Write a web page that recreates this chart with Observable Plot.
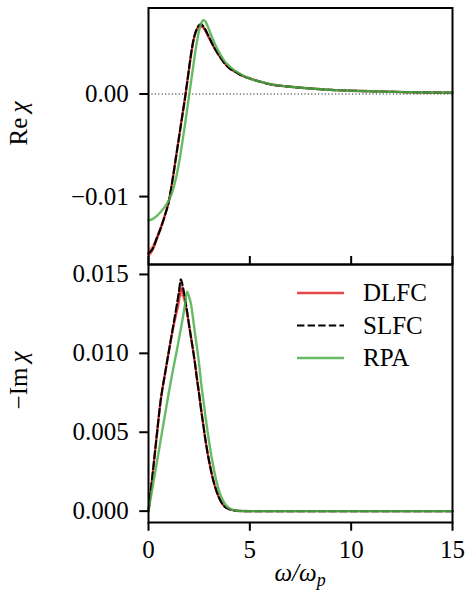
<!DOCTYPE html>
<html><head><meta charset="utf-8">
<script src="https://cdn.jsdelivr.net/npm/d3@7"></script>
<script src="https://cdn.jsdelivr.net/npm/@observablehq/plot@0.6"></script>
<style>
body{margin:0;background:#fff;}
#chart{position:relative;width:467px;height:591px;font-family:'Liberation Serif','Times New Roman','DejaVu Serif',serif;}
#chart svg{display:block;overflow:visible;}
#chart svg text{font-family:'Liberation Serif','Times New Roman','DejaVu Serif',serif !important;}
#overlay{position:absolute;left:0;top:0;pointer-events:none;}
</style></head><body><div id="chart"></div>
<script>
// frequency grid (omega / omega_p)
const omega = [0,0.2,0.4,0.6,0.8,1.0,1.2,1.4,1.5,1.6,1.7,1.8, 1.9,2.0,2.1,2.2,2.3,2.4,2.5,2.6,2.7,2.8,2.9,3.0, 3.25,3.5,3.75,4.0,4.25,4.5, 5,5.5,6,7,8,9,10,11,12,13,14,15];

// Re chi
const reSLFC = [-0.0155,-0.0151,-0.0141,-0.0131,-0.0119,-0.0105,-0.0082,-0.0056,-0.0043,-0.0030,-0.0017,-0.0004, 0.0010,0.0025,0.0039,0.0051,0.0059,0.0064,0.0067,0.0068,0.0066,0.0063,0.0059,0.0055, 0.0045,0.0037,0.0030,0.0025,0.0022,0.0019, 0.0015,0.0012,0.00095,0.0007,0.00053,0.0004,0.00032,0.00026,0.00021,0.00017,0.00014,0.00012];
const reDLFC = [-0.0156,-0.0152,-0.0142,-0.0131,-0.0119,-0.0105,-0.0082,-0.0056,-0.0043,-0.0030,-0.0017,-0.0004, 0.0010,0.0024,0.0038,0.0050,0.0058,0.0063,0.0066,0.0066,0.0065,0.0062,0.0058,0.0054, 0.0045,0.0037,0.0030,0.0025,0.0022,0.0019, 0.0015,0.0012,0.00095,0.0007,0.00053,0.0004,0.00032,0.00026,0.00021,0.00017,0.00014,0.00012];
const reDLFCLo = [-0.0160,-0.0156,-0.0145,-0.0133,-0.0121,-0.0107,-0.0084,-0.0058,-0.0045,-0.0032,-0.0019,-0.0006, 0.0008,0.0022,0.0036,0.0048,0.0056,0.0061,0.0064,0.0064,0.0063,0.0060,0.0057,0.0053, 0.0044,0.0036,0.0029,0.0024,0.0021,0.0018, 0.0014,0.0011,0.0009,0.00065,0.0005,0.00038,0.0003,0.00024,0.0002,0.00016,0.00013,0.00011];
const reDLFCHi = [-0.0152,-0.0148,-0.0139,-0.0129,-0.0117,-0.0103,-0.0080,-0.0054,-0.0041,-0.0028,-0.0015,-0.0002, 0.0012,0.0026,0.0040,0.0052,0.0060,0.0065,0.0068,0.0068,0.0067,0.0064,0.0059,0.0055, 0.0046,0.0038,0.0031,0.0026,0.0023,0.0020, 0.0016,0.0013,0.0010,0.00075,0.00056,0.00042,0.00034,0.00028,0.00022,0.00018,0.00015,0.00013];
const reRPA = [-0.0123,-0.0122,-0.0119,-0.0115,-0.0110,-0.0104,-0.0094,-0.0078,-0.0068,-0.0056,-0.0043,-0.0030, -0.0016,-0.0002,0.0012,0.0026,0.0040,0.0052,0.0062,0.0069,0.0072,0.0071,0.0067,0.0062, 0.0050,0.0040,0.0032,0.0027,0.0023,0.0020, 0.0015,0.0012,0.00096,0.0007,0.00053,0.0004,0.00032,0.00026,0.00021,0.00017,0.00014,0.00012];

// -Im chi
const imSLFC = [0,0.0023,0.0047,0.0070,0.0086,0.0101,0.0116,0.0131,0.0139,0.0147,0.0142,0.0135, 0.0127,0.0118,0.0110,0.0102,0.0093,0.0083,0.0074,0.0064,0.0055,0.0046,0.0038,0.0031, 0.0017,0.0008,0.0003,0.00012,0.00004,0.00001, 0,0,0,0,0,0,0,0,0,0,0,0];
const imDLFC = [0,0.0023,0.0047,0.0070,0.0086,0.0101,0.0115,0.0127,0.0133,0.0141,0.0139,0.0133, 0.0126,0.0118,0.0110,0.0102,0.0093,0.0083,0.0074,0.0064,0.0055,0.0046,0.0038,0.0031, 0.0017,0.0008,0.0003,0.00012,0.00004,0.00001, 0,0,0,0,0,0,0,0,0,0,0,0];
const imDLFCLo = [0,0.0022,0.0046,0.0069,0.0085,0.0100,0.0113,0.0124,0.0129,0.0136,0.0135,0.0130, 0.0124,0.0117,0.0109,0.0101,0.0092,0.0082,0.0073,0.0063,0.0054,0.0045,0.0037,0.0030, 0.0016,0.0007,0.00025,0.0001,0.00003,0, 0,0,0,0,0,0,0,0,0,0,0,0];
const imDLFCHi = [0,0.0024,0.0048,0.0071,0.0087,0.0102,0.0117,0.0131,0.0139,0.0147,0.0144,0.0137, 0.0128,0.0119,0.0111,0.0103,0.0094,0.0084,0.0075,0.0065,0.0056,0.0047,0.0039,0.0032, 0.0018,0.0009,0.00035,0.00014,0.00005,0.00001, 0,0,0,0,0,0,0,0,0,0,0,0];
const imRPA = [0,0.0015,0.0030,0.0045,0.0060,0.0075,0.0089,0.0102,0.0109,0.0116,0.0123,0.0131, 0.0139,0.0136,0.0131,0.0122,0.0112,0.0103,0.0093,0.0081,0.0071,0.0061,0.0052,0.0043, 0.0025,0.0012,0.0005,0.00016,0.00005,0.00001, 0,0,0,0,0,0,0,0,0,0,0,0];

const seriesNames = ["DLFC", "SLFC", "RPA"];
const xTicks = [0, 5, 10, 15];
const reTicks = [-0.01, 0];
const imTicks = [0, 0.005, 0.010, 0.015];
const xDomain = [0, 15];
const reDomain = [-0.01662, 0.00838];
const imDomain = [-0.00072, 0.01563];

const RED = "#e41a1c", GREEN = "#4daf4a";
const FONT = 25, FF = "'Liberation Serif','Times New Roman','DejaVu Serif',serif";
const W = 467, ML = 148, MR = 15;

const reRows = omega.map((w, i) => ({w, dl: reDLFC[i], lo: reDLFCLo[i], hi: reDLFCHi[i], sl: reSLFC[i], rpa: reRPA[i]}));
const imRows = omega.map((w, i) => ({w, dl: imDLFC[i], lo: imDLFCLo[i], hi: imDLFCHi[i], sl: imSLFC[i], rpa: imRPA[i]}));

function panel(rows, yDomain, ticks, fmt, height, mt, mb, bottom, zeroLine) {
  const marks = [];
  if (zeroLine) marks.push(Plot.ruleY([0], {stroke: "#222", strokeWidth: 1.1, strokeDasharray: "1.2,2.2"}));
  marks.push(Plot.areaY(rows, {x: "w", y1: "lo", y2: "hi", fill: RED, fillOpacity: 0.45, curve: "monotone-x"}));
  marks.push(Plot.lineY(rows, {x: "w", y: "dl", stroke: RED, strokeOpacity: 0.8, strokeWidth: 2.4, curve: "monotone-x"}));
  marks.push(Plot.lineY(rows, {x: "w", y: "sl", stroke: "black", strokeWidth: 2.1, strokeDasharray: "7.4,3.2", curve: "monotone-x"}));
  marks.push(Plot.lineY(rows, {x: "w", y: "rpa", stroke: GREEN, strokeOpacity: 0.85, strokeWidth: 2.4, curve: "monotone-x"}));
  marks.push(Plot.frame({stroke: "black", strokeWidth: 2}));
  marks.push(Plot.axisY({ticks, tickFormat: fmt, tickSize: 8.75, tickPadding: 11, strokeWidth: 2, label: null, fontSize: FONT}));
  if (bottom) marks.push(Plot.axisX({ticks: xTicks, tickSize: 8.75, tickPadding: 8.75, strokeWidth: 2, label: null, fontSize: FONT, tickFormat: d => String(d)}));
  else marks.push(Plot.axisX({ticks: xTicks, tickSize: -8, strokeWidth: 2, label: null, tickFormat: () => ""}));
  return Plot.plot({
    width: W, height, marginLeft: ML, marginRight: MR, marginTop: mt, marginBottom: mb,
    x: {domain: xDomain}, y: {domain: yDomain},
    style: {fontFamily: FF, fontSize: FONT + "px", overflow: "visible", background: "white", color: "black"},
    marks
  });
}

const chart = document.getElementById("chart");
chart.append(panel(reRows, reDomain, reTicks, d3.format(".2f"), 264, 7.5, 0, false, true));
chart.append(panel(imRows, imDomain, imTicks, d3.format(".3f"), 327, 0, 69, true, false));

// overlay for axis titles and legend
const ov = d3.select(chart).append("svg").attr("id", "overlay").attr("width", W).attr("height", 591)
  .attr("font-family", FF).attr("font-size", FONT);

const t1 = ov.append("text").attr("transform", "translate(27,123.5) rotate(-90)").attr("text-anchor", "middle");
t1.append("tspan").text("Re\u2009");
t1.append("tspan").attr("font-style", "italic").text("χ");
const t2 = ov.append("text").attr("transform", "translate(27,380.5) rotate(-90)").attr("text-anchor", "middle");
t2.append("tspan").text("−Im\u2009");
t2.append("tspan").attr("font-style", "italic").text("χ");
const t3 = ov.append("text").attr("x", 300).attr("y", 581).attr("text-anchor", "middle").attr("font-style", "italic");
t3.append("tspan").text("ω/ω");
t3.append("tspan").attr("font-size", "18px").attr("dy", 5).text("p");

const legendStyles = [
  {stroke: RED, opacity: 0.8, dash: null, width: 2.4},
  {stroke: "black", opacity: 1, dash: "7.4,3.2", width: 2.1},
  {stroke: GREEN, opacity: 0.85, dash: null, width: 2.4}
];
const legendY = [293, 325.5, 358];
seriesNames.forEach((name, i) => {
  const s = legendStyles[i];
  ov.append("line").attr("x1", 297).attr("x2", 344).attr("y1", legendY[i]).attr("y2", legendY[i])
    .attr("stroke", s.stroke).attr("stroke-opacity", s.opacity).attr("stroke-width", s.width)
    .attr("stroke-dasharray", s.dash);
  ov.append("text").attr("x", 363).attr("y", legendY[i] + 8).text(name);
});
</script></body></html>
